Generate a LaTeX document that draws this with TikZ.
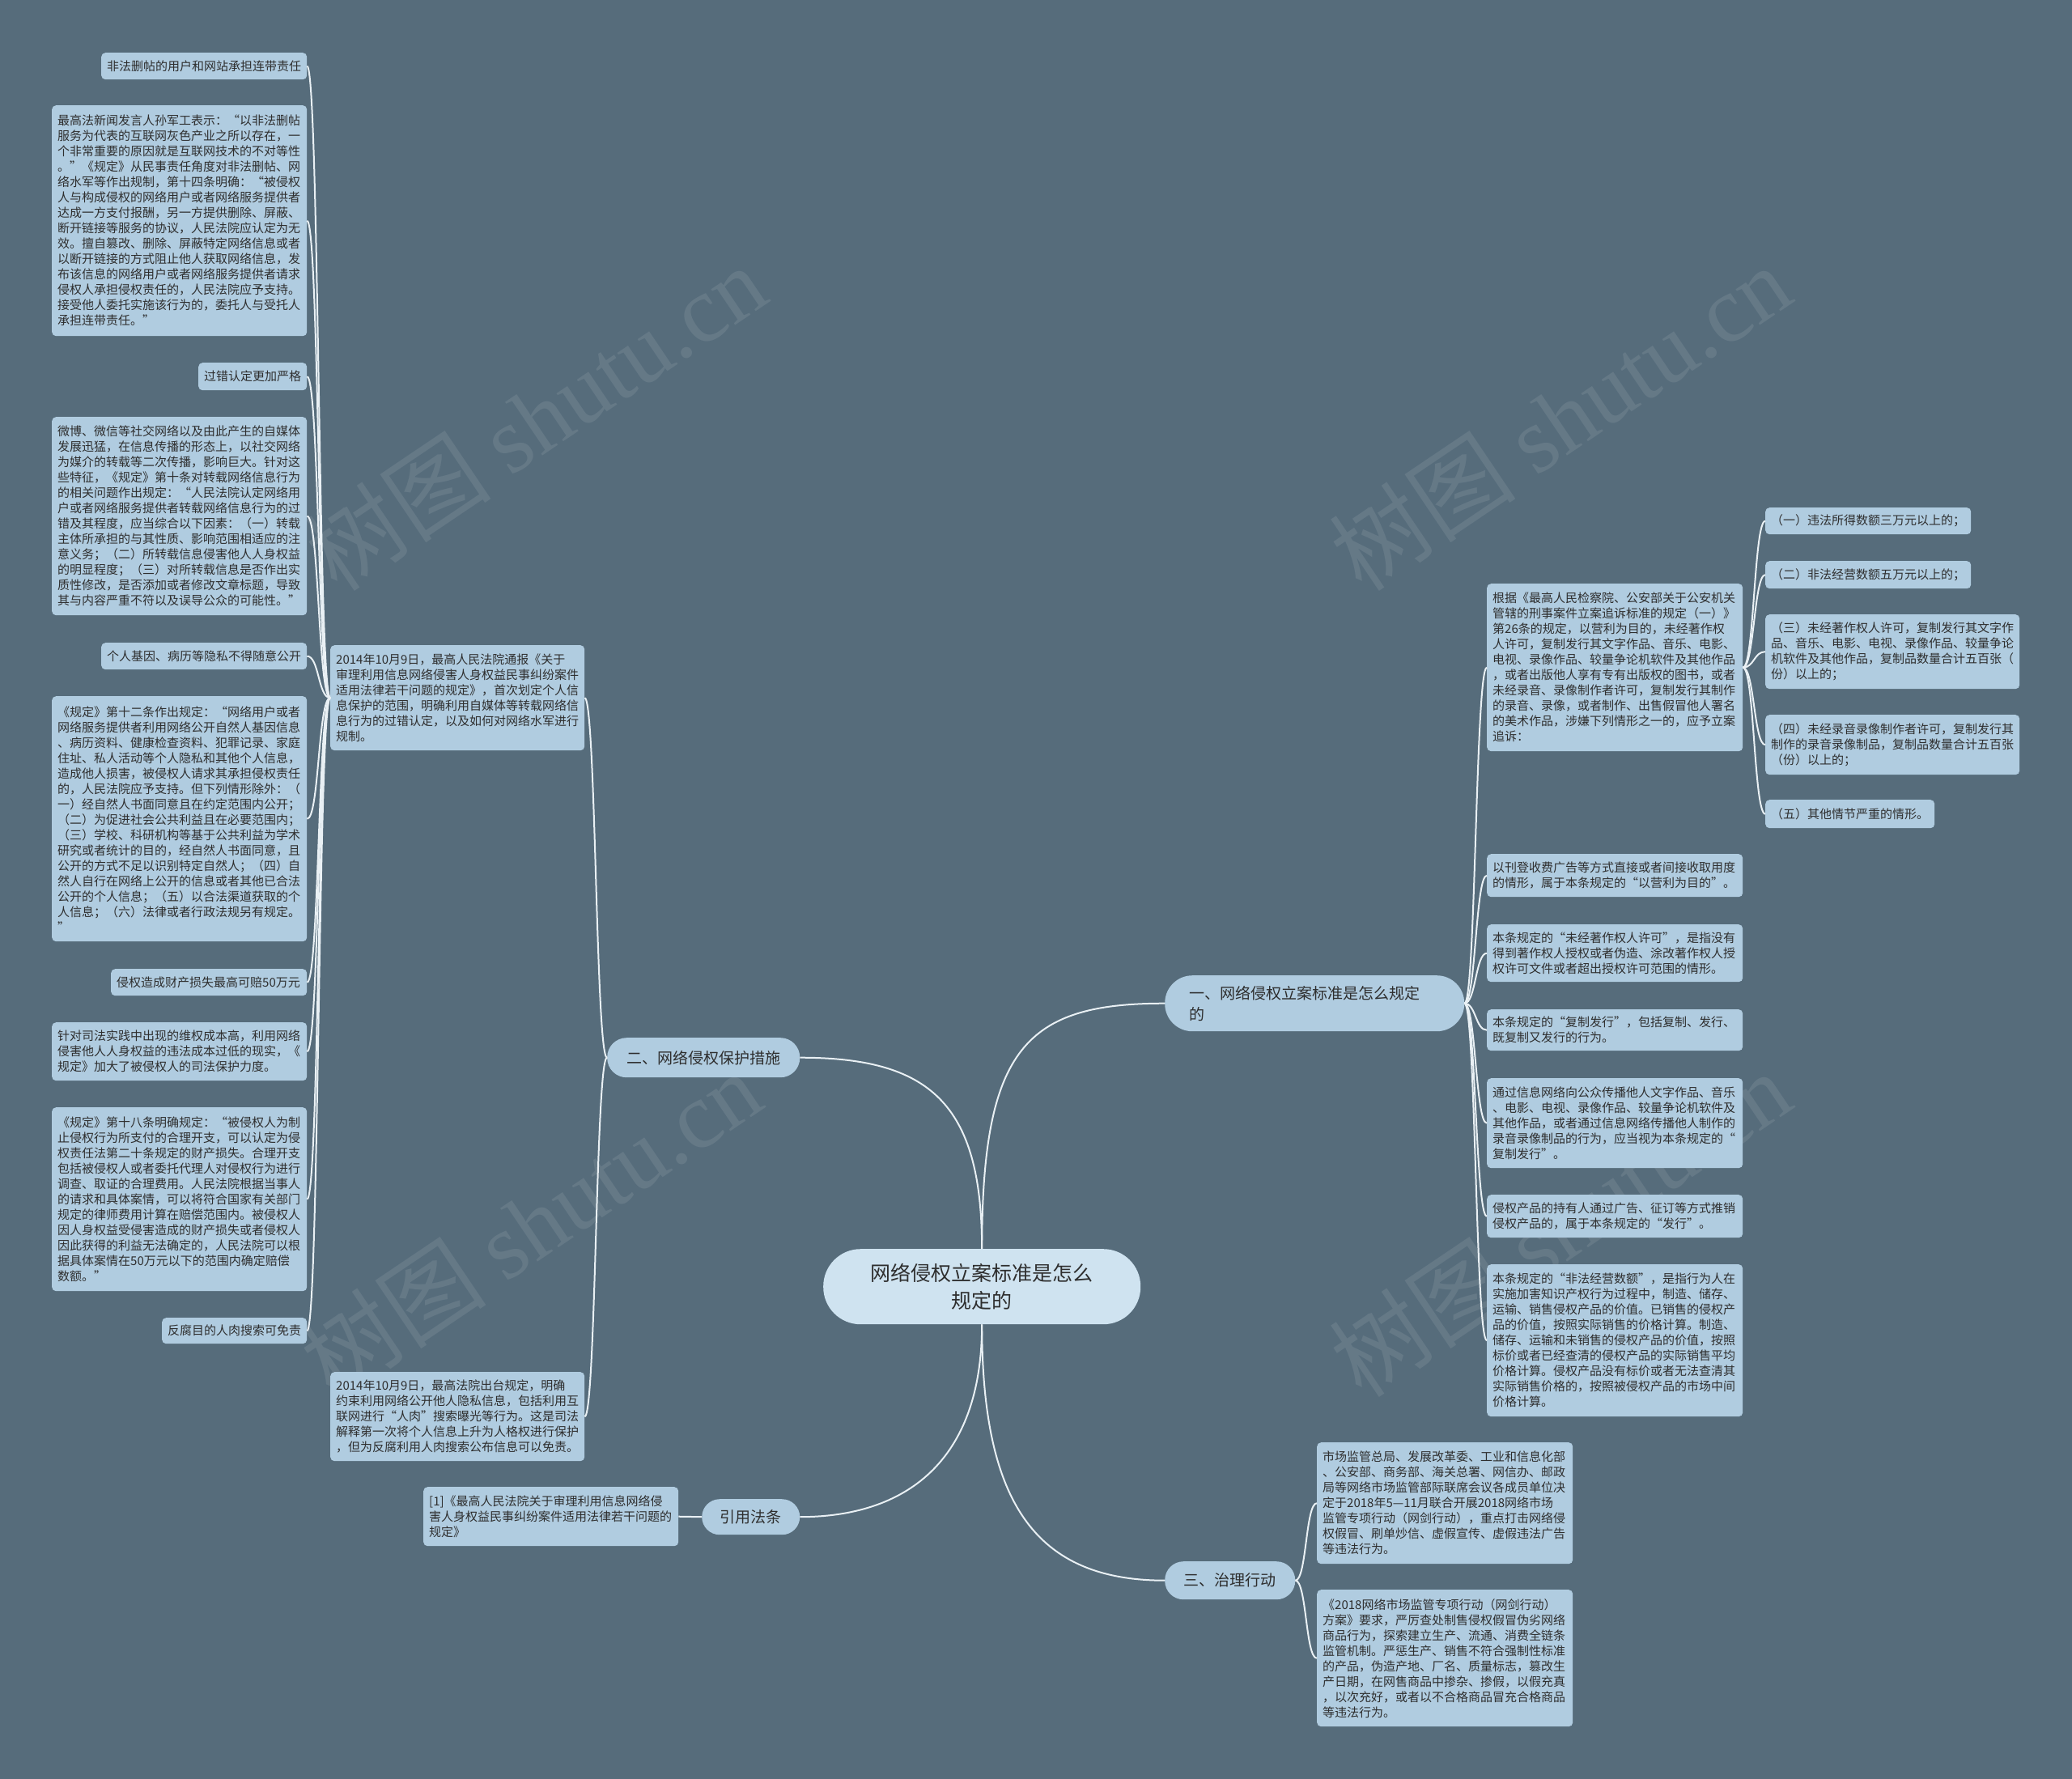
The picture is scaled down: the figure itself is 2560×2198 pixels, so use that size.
\documentclass[tikz,border=0pt]{standalone}
\usepackage{fontspec}
\setmainfont{Noto Sans CJK SC}
\newfontfamily\wmfont{Liberation Serif}
\definecolor{bgc}{HTML}{566C7B}
\definecolor{leafc}{HTML}{B0CCE0}
\definecolor{centc}{HTML}{CFE3F0}
\definecolor{txtc}{HTML}{2E2E2E}
\definecolor{linec}{HTML}{E9F0F4}
\newcommand\bx[8]{%
  \pgfmathsetmacro\bxw{#5-#3-2*#7}%
  \pgfmathsetmacro\bxh{#6-#4}%
  \node[#1, inner xsep=#7pt, text width=\bxw pt, minimum height=\bxh pt, anchor=north west] (#2) at (#3,#4) {#8};}
\tikzset{
  leaf/.style={rectangle, rounded corners=5pt, fill=leafc, text=txtc, font=\fontsize{15pt}{19pt}\selectfont, inner ysep=3pt, align=left},
  branch/.style={rectangle, fill=leafc, text=txtc, font=\fontsize{19pt}{26pt}\selectfont, inner ysep=3pt},
  centre/.style={rectangle, fill=centc, text=txtc, font=\fontsize{25pt}{34pt}\selectfont, inner ysep=3pt, align=center},
  conn/.style={draw=linec, line width=2pt},
  wm/.style={text=white, opacity=0.09, font=\fontsize{116pt}{120pt}\selectfont}
}
\begin{document}
\begin{tikzpicture}[x=1pt,y=-1pt]
\fill[bgc] (0,0) rectangle (2560,2198);
\useasboundingbox (0,0) rectangle (2560,2198);
% watermarks
\node[wm, rotate=34] (wm1) at (661,516) {树图 {\wmfont shutu.cn}};
\node[wm, rotate=34] (wm2) at (655,1512) {树图 {\wmfont shutu.cn}};
\node[wm, rotate=34] (wm3) at (1927,516) {树图 {\wmfont shutu.cn}};
\node[wm, rotate=34] (wm4) at (1927,1512) {树图 {\wmfont shutu.cn}};
% centre and branches
\bx{centre, rounded corners=46pt}{c}{1017}{1543}{1409}{1636}{40}{网络侵权立案标准是怎么\\规定的}
\bx{branch, rounded corners=34pt, align=left}{b1}{1439}{1205}{1809}{1274}{30}{一、网络侵权立案标准是怎么规定\\的}
\bx{branch, rounded corners=24pt, align=center}{b2}{750}{1282}{988}{1331}{10}{二、网络侵权保护措施}
\bx{branch, rounded corners=23pt, align=center}{b3}{1439}{1929}{1600}{1976}{10}{三、治理行动}
\bx{branch, rounded corners=22pt, align=center}{b4}{867}{1852}{988}{1896}{10}{引用法条}
% left side
\bx{leaf}{m1}{408}{797}{722}{927}{7}{2014年10月9日，最高人民法院通报《关于\\审理利用信息网络侵害人身权益民事纠纷案件\\适用法律若干问题的规定》，首次划定个人信\\息保护的范围，明确利用自媒体等转载网络信\\息行为的过错认定，以及如何对网络水军进行\\规制。}
\bx{leaf}{m2}{408}{1695}{722}{1805}{7}{2014年10月9日，最高法院出台规定，明确\\约束利用网络公开他人隐私信息，包括利用互\\联网进行“人肉”搜索曝光等行为。这是司法\\解释第一次将个人信息上升为人格权进行保护\\，但为反腐利用人肉搜索公布信息可以免责。}
\bx{leaf}{ref}{523}{1837}{838}{1910}{7}{[1]《最高人民法院关于审理利用信息网络侵\\害人身权益民事纠纷案件适用法律若干问题的\\规定》}
\bx{leaf}{l1}{125}{65}{379}{98}{7}{非法删帖的用户和网站承担连带责任}
\bx{leaf}{l2}{64}{130}{379}{415}{7}{最高法新闻发言人孙军工表示：“以非法删帖\\服务为代表的互联网灰色产业之所以存在，一\\个非常重要的原因就是互联网技术的不对等性\\。”《规定》从民事责任角度对非法删帖、网\\络水军等作出规制，第十四条明确：“被侵权\\人与构成侵权的网络用户或者网络服务提供者\\达成一方支付报酬，另一方提供删除、屏蔽、\\断开链接等服务的协议，人民法院应认定为无\\效。擅自篡改、删除、屏蔽特定网络信息或者\\以断开链接的方式阻止他人获取网络信息，发\\布该信息的网络用户或者网络服务提供者请求\\侵权人承担侵权责任的，人民法院应予支持。\\接受他人委托实施该行为的，委托人与受托人\\承担连带责任。”}
\bx{leaf}{l3}{245}{448}{379}{482}{7}{过错认定更加严格}
\bx{leaf}{l4}{64}{515}{379}{760}{7}{微博、微信等社交网络以及由此产生的自媒体\\发展迅猛，在信息传播的形态上，以社交网络\\为媒介的转载等二次传播，影响巨大。针对这\\些特征，《规定》第十条对转载网络信息行为\\的相关问题作出规定：“人民法院认定网络用\\户或者网络服务提供者转载网络信息行为的过\\错及其程度，应当综合以下因素：（一）转载\\主体所承担的与其性质、影响范围相适应的注\\意义务；（二）所转载信息侵害他人人身权益\\的明显程度；（三）对所转载信息是否作出实\\质性修改，是否添加或者修改文章标题，导致\\其与内容严重不符以及误导公众的可能性。”}
\bx{leaf}{l5}{125}{794}{379}{827}{7}{个人基因、病历等隐私不得随意公开}
\bx{leaf}{l6}{64}{860}{379}{1163}{7}{《规定》第十二条作出规定：“网络用户或者\\网络服务提供者利用网络公开自然人基因信息\\、病历资料、健康检查资料、犯罪记录、家庭\\住址、私人活动等个人隐私和其他个人信息，\\造成他人损害，被侵权人请求其承担侵权责任\\的，人民法院应予支持。但下列情形除外：（\\一）经自然人书面同意且在约定范围内公开；\\（二）为促进社会公共利益且在必要范围内；\\（三）学校、科研机构等基于公共利益为学术\\研究或者统计的目的，经自然人书面同意，且\\公开的方式不足以识别特定自然人；（四）自\\然人自行在网络上公开的信息或者其他已合法\\公开的个人信息；（五）以合法渠道获取的个\\人信息；（六）法律或者行政法规另有规定。\\”}
\bx{leaf}{l7}{137}{1197}{379}{1230}{7}{侵权造成财产损失最高可赔50万元}
\bx{leaf}{l8}{64}{1263}{379}{1335}{7}{针对司法实践中出现的维权成本高，利用网络\\侵害他人人身权益的违法成本过低的现实，《\\规定》加大了被侵权人的司法保护力度。}
\bx{leaf}{l9}{64}{1368}{379}{1595}{7}{《规定》第十八条明确规定：“被侵权人为制\\止侵权行为所支付的合理开支，可以认定为侵\\权责任法第二十条规定的财产损失。合理开支\\包括被侵权人或者委托代理人对侵权行为进行\\调查、取证的合理费用。人民法院根据当事人\\的请求和具体案情，可以将符合国家有关部门\\规定的律师费用计算在赔偿范围内。被侵权人\\因人身权益受侵害造成的财产损失或者侵权人\\因此获得的利益无法确定的，人民法院可以根\\据具体案情在50万元以下的范围内确定赔偿\\数额。”}
\bx{leaf}{l10}{200}{1628}{379}{1660}{7}{反腐目的人肉搜索可免责}
% right side
\bx{leaf}{r1}{1837}{721}{2153}{928}{7}{根据《最高人民检察院、公安部关于公安机关\\管辖的刑事案件立案追诉标准的规定（一）》\\第26条的规定，以营利为目的，未经著作权\\人许可，复制发行其文字作品、音乐、电影、\\电视、录像作品、较量争论机软件及其他作品\\，或者出版他人享有专有出版权的图书，或者\\未经录音、录像制作者许可，复制发行其制作\\的录音、录像，或者制作、出售假冒他人署名\\的美术作品，涉嫌下列情形之一的，应予立案\\追诉：}
\bx{leaf}{r2}{1837}{1055}{2153}{1108}{7}{以刊登收费广告等方式直接或者间接收取用度\\的情形，属于本条规定的“以营利为目的”。}
\bx{leaf}{r3}{1837}{1142}{2153}{1213}{7}{本条规定的“未经著作权人许可”，是指没有\\得到著作权人授权或者伪造、涂改著作权人授\\权许可文件或者超出授权许可范围的情形。}
\bx{leaf}{r4}{1837}{1247}{2153}{1298}{7}{本条规定的“复制发行”，包括复制、发行、\\既复制又发行的行为。}
\bx{leaf}{r5}{1837}{1332}{2153}{1443}{7}{通过信息网络向公众传播他人文字作品、音乐\\、电影、电视、录像作品、较量争论机软件及\\其他作品，或者通过信息网络传播他人制作的\\录音录像制品的行为，应当视为本条规定的“\\复制发行”。}
\bx{leaf}{r6}{1837}{1476}{2153}{1529}{7}{侵权产品的持有人通过广告、征订等方式推销\\侵权产品的，属于本条规定的“发行”。}
\bx{leaf}{r7}{1837}{1562}{2153}{1750}{7}{本条规定的“非法经营数额”，是指行为人在\\实施加害知识产权行为过程中，制造、储存、\\运输、销售侵权产品的价值。已销售的侵权产\\品的价值，按照实际销售的价格计算。制造、\\储存、运输和未销售的侵权产品的价值，按照\\标价或者已经查清的侵权产品的实际销售平均\\价格计算。侵权产品没有标价或者无法查清其\\实际销售价格的，按照被侵权产品的市场中间\\价格计算。}
\bx{leaf}{s1}{2181}{627}{2435}{660}{7}{（一）违法所得数额三万元以上的；}
\bx{leaf}{s2}{2181}{693}{2435}{727}{7}{（二）非法经营数额五万元以上的；}
\bx{leaf}{s3}{2181}{759}{2495}{851}{7}{（三）未经著作权人许可，复制发行其文字作\\品、音乐、电影、电视、录像作品、较量争论\\机软件及其他作品，复制品数量合计五百张（\\份）以上的；}
\bx{leaf}{s4}{2181}{883}{2495}{957}{7}{（四）未经录音录像制作者许可，复制发行其\\制作的录音录像制品，复制品数量合计五百张\\（份）以上的；}
\bx{leaf}{s5}{2181}{988}{2390}{1023}{7}{（五）其他情节严重的情形。}
\bx{leaf}{t1}{1627}{1782}{1943}{1932}{7}{市场监管总局、发展改革委、工业和信息化部\\、公安部、商务部、海关总署、网信办、邮政\\局等网络市场监管部际联席会议各成员单位决\\定于2018年5—11月联合开展2018网络市场\\监管专项行动（网剑行动），重点打击网络侵\\权假冒、刷单炒信、虚假宣传、虚假违法广告\\等违法行为。}
\bx{leaf}{t2}{1627}{1964}{1943}{2133}{7}{《2018网络市场监管专项行动（网剑行动）\\方案》要求，严厉查处制售侵权假冒伪劣网络\\商品行为，探索建立生产、流通、消费全链条\\监管机制。严惩生产、销售不符合强制性标准\\的产品，伪造产地、厂名、质量标志，篡改生\\产日期，在网售商品中掺杂、掺假，以假充真\\，以次充好，或者以不合格商品冒充合格商品\\等违法行为。}
% connectors: centre to branches
\draw[conn] (c.north) .. controls +(0,-250) and +(-170,0) .. (b1.west);
\draw[conn] (c.north) .. controls +(0,-180) and +(160,0) .. (b2.east);
\draw[conn] (c.south) .. controls +(0,220) and +(-160,0) .. (b3.west);
\draw[conn] (c.south) .. controls +(0,170) and +(130,0) .. (b4.east);
% branch 2
\foreach \k in {m1,m2}
  \draw[conn] (b2.west) .. controls +(-14,0) and +(14,0) .. (\k.east);
\foreach \k in {l1,l2,l3,l4,l5,l6,l7,l8,l9,l10}
  \draw[conn] (m1.west) .. controls +(-15,0) and +(15,0) .. (\k.east);
% branch 4
\draw[conn] (b4.west) -- (ref.east);
% branch 1
\foreach \k in {r1,r2,r3,r4,r5,r6,r7}
  \draw[conn] (b1.east) .. controls +(14,0) and +(-14,0) .. (\k.west);
\foreach \k in {s1,s2,s3,s4,s5}
  \draw[conn] (r1.east) .. controls +(14,0) and +(-14,0) .. (\k.west);
% branch 3
\foreach \k in {t1,t2}
  \draw[conn] (b3.east) .. controls +(14,0) and +(-14,0) .. (\k.west);
\end{tikzpicture}
\end{document}
